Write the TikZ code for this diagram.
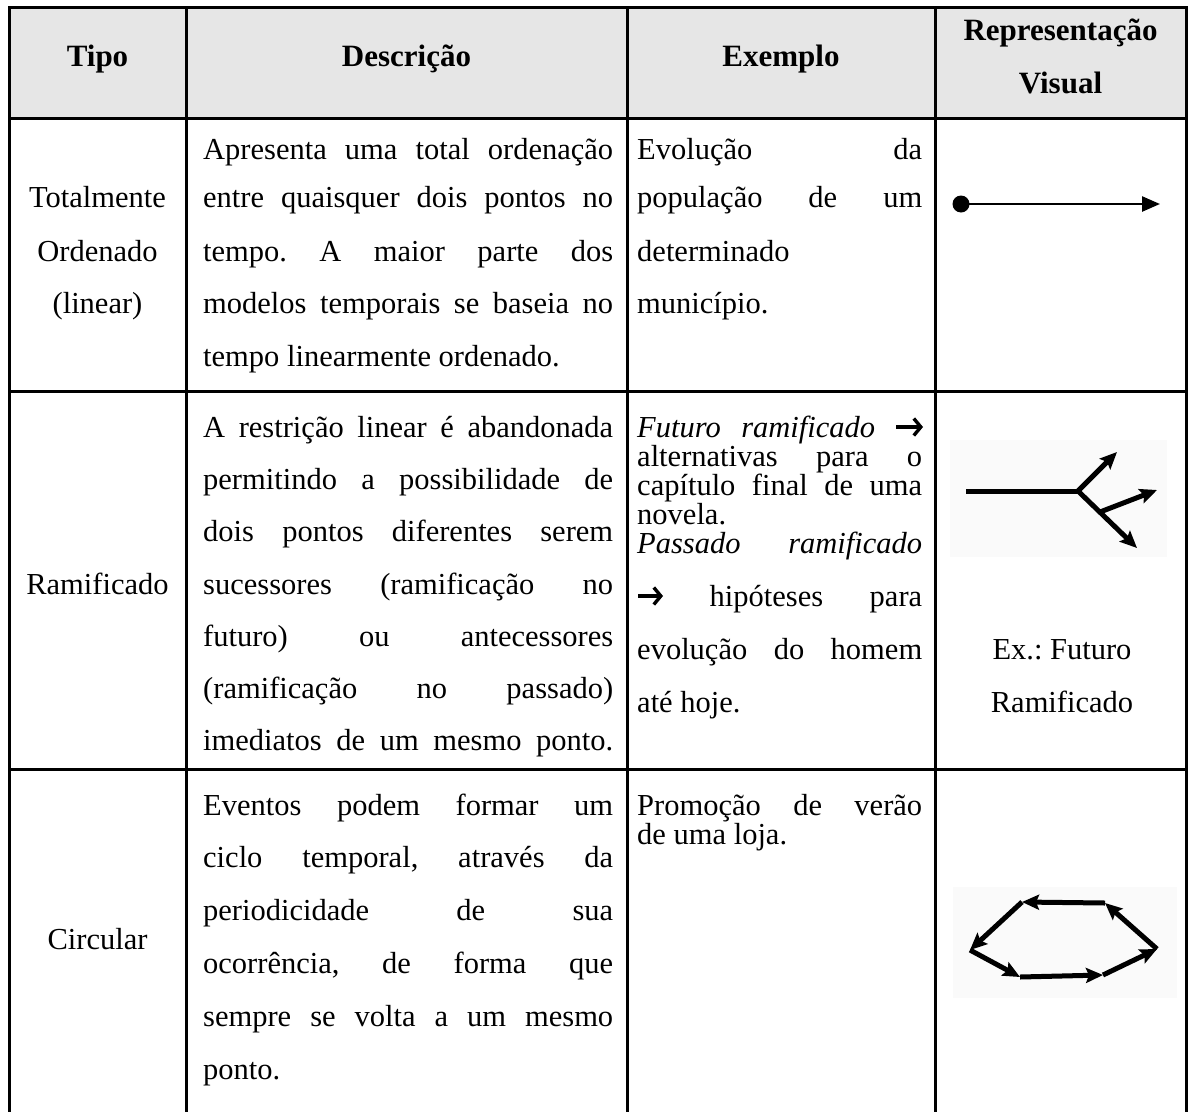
\documentclass[tikz,border=0pt]{standalone}
\usepackage{fontspec}
\setmainfont{Liberation Serif}
\usetikzlibrary{arrows.meta}
\definecolor{headgray}{HTML}{E6E6E6}
\definecolor{iconbg}{HTML}{FAFAFA}
\frenchspacing
% justified line of given width
\newcommand{\jus}[2]{\makebox[#1][s]{#2}}
\begin{document}
\begin{tikzpicture}[x=1pt,y=-1pt,
  grid/.style={line width=3pt,line cap=rect},
  txt/.style={anchor=base west,inner sep=0pt,font=\fontsize{30.5}{36}\selectfont},
  ctr/.style={anchor=base,inner sep=0pt,font=\fontsize{30.5}{36}\selectfont},
  hdr/.style={anchor=base,inner sep=0pt,font=\fontsize{31}{37}\selectfont\bfseries},
  icon/.style={line width=5pt},
  tip/.style={-{Stealth[length=17pt,width=15pt,inset=3pt]}},
  txtarrow/.style={line width=3.4pt,-{Straight Barb[length=7pt,width=17pt,line width=3.4pt]}},
]
\useasboundingbox (0,0) rectangle (1188,1111);

% header background and grid
\fill[headgray] (9,7) rectangle (1186,118);
\foreach \yy in {7,118,391,769} \draw[grid] (9,\yy) -- (1186,\yy);
\foreach \xx in {9,186,627,935,1186} \draw[grid] (\xx,7) -- (\xx,1111);

% header
\node[hdr] (hTipo) at (97.5,66) {Tipo};
\node[hdr] (hDesc) at (406.5,66) {Descrição};
\node[hdr] (hEx) at (781,66) {Exemplo};
\node[hdr] (hRep1) at (1060.5,40) {Representação};
\node[hdr] (hRep2) at (1060.5,93) {Visual};

% row 1: totally ordered time
\node[ctr] (t1a) at (97.5,207) {Totalmente};
\node[ctr] (t1b) at (97.5,261) {Ordenado};
\node[ctr] (t1c) at (97.5,313.5) {(linear)};
\node[txt] (d1a) at (203,159) {\jus{410pt}{Apresenta uma total ordenação}};
\node[txt] (d1b) at (203,207) {\jus{410pt}{entre quaisquer dois pontos no}};
\node[txt] (d1c) at (203,261) {\jus{410pt}{tempo. A maior parte dos}};
\node[txt] (d1d) at (203,313.5) {\jus{410pt}{modelos temporais se baseia no}};
\node[txt] (d1e) at (203,366) {tempo linearmente ordenado.};
\node[txt] (e1a) at (637,159) {\jus{285pt}{Evolução da}};
\node[txt] (e1b) at (637,207) {\jus{285pt}{população de um}};
\node[txt] (e1c) at (637,261) {determinado};
\node[txt] (e1d) at (637,313.5) {município.};
\node[circle,fill,inner sep=0pt,minimum size=17pt] (dot) at (961,204) {};
\coordinate (lend) at (1160,204);
\draw[line width=2.5pt,-{Triangle[length=18pt,width=15pt]}] (dot.center) -- (lend);

% row 2: branching time
\node[ctr] (t2a) at (97.5,594) {Ramificado};
\node[txt] (d2a) at (203,437) {\jus{410pt}{A restrição linear é abandonada}};
\node[txt] (d2b) at (203,489) {\jus{410pt}{permitindo a possibilidade de}};
\node[txt] (d2c) at (203,541) {\jus{410pt}{dois pontos diferentes serem}};
\node[txt] (d2d) at (203,594) {\jus{410pt}{sucessores (ramificação no}};
\node[txt] (d2e) at (203,646) {\jus{410pt}{futuro) ou antecessores}};
\node[txt] (d2f) at (203,698) {\jus{410pt}{(ramificação no passado)}};
\node[txt] (d2g) at (203,750) {\jus{410pt}{imediatos de um mesmo ponto.}};
\node[txt] (e2a) at (637,437) {\jus{238pt}{\textit{Futuro ramificado}}};
\coordinate (fa0) at (896,427);
\coordinate (fa1) at (923,427);
\draw[txtarrow] (fa0) -- (fa1);
\node[txt] (e2b) at (637,466) {\jus{285pt}{alternativas para o}};
\node[txt] (e2c) at (637,495) {\jus{285pt}{capítulo final de uma}};
\node[txt] (e2d) at (637,524) {novela.};
\node[txt] (e2e) at (637,553) {\jus{285pt}{\textit{Passado ramificado}}};
\node[txt] (e2f) at (637,606) {\jus{285pt}{\hspace{26pt} hipóteses para}};
\coordinate (pa0) at (638,596);
\coordinate (pa1) at (663,596);
\draw[txtarrow] (pa0) -- (pa1);
\node[txt] (e2g) at (637,659) {\jus{285pt}{evolução do homem}};
\node[txt] (e2h) at (637,712) {até hoje.};
\node[ctr] (r2a) at (1062,659) {Ex.: Futuro};
\node[ctr] (r2b) at (1062,712) {Ramificado};
% branching time icon
\fill[iconbg] (950,440) rectangle (1167,557);
\coordinate (b0) at (966,491);
\coordinate (bj) at (1078,491);
\coordinate (bu) at (1117,452);
\coordinate (bl) at (1137,548);
\coordinate (bm0) at (1100,512);
\coordinate (bm) at (1157,490);
\draw[icon] (b0) -- (bj);
\draw[icon,tip] (bj) -- (bu);
\draw[icon,tip] (bj) -- (bl);
\draw[icon,tip] (bm0) -- (bm);

% row 3: circular time
\node[ctr] (t3a) at (97.5,949) {Circular};
\node[txt] (d3a) at (203,815) {\jus{410pt}{Eventos podem formar um}};
\node[txt] (d3b) at (203,867) {\jus{410pt}{ciclo temporal, através da}};
\node[txt] (d3c) at (203,920) {\jus{410pt}{periodicidade de sua}};
\node[txt] (d3d) at (203,973) {\jus{410pt}{ocorrência, de forma que}};
\node[txt] (d3e) at (203,1026) {\jus{410pt}{sempre se volta a um mesmo}};
\node[txt] (d3f) at (203,1079) {ponto.};
\node[txt] (e3a) at (637,815) {\jus{285pt}{Promoção de verão}};
\node[txt] (e3b) at (637,844) {de uma loja.};
% circular time icon
\fill[iconbg] (953,887) rectangle (1177,998);
\coordinate (hTL) at (1022,902);
\coordinate (hTR) at (1105,903);
\coordinate (hR) at (1157,949);
\coordinate (hBR) at (1103,975);
\coordinate (hBL) at (1020,977);
\coordinate (hL) at (970,950);
\draw[icon,tip] (hTR) -- (hTL);
\draw[icon,tip] (hTL) -- (hL);
\draw[icon,tip] (hL) -- (hBL);
\draw[icon,tip] (hBL) -- (hBR);
\draw[icon,tip] (hBR) -- (hR);
\draw[icon,tip] (hR) -- (hTR);
\end{tikzpicture}
\end{document}
